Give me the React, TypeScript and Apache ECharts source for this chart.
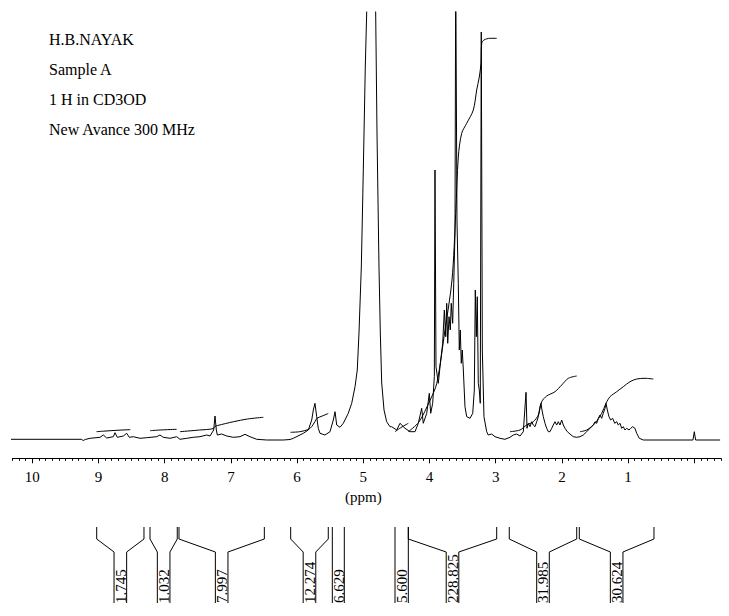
import React, { useEffect, useRef } from 'react';
import * as echarts from 'echarts';

const headerLines = ['H.B.NAYAK', 'Sample A', '1 H in CD3OD', 'New Avance 300 MHz'];
const axisName = '(ppm)';

// [ppm, intensity]
const spectrum: [number, number][] = [
  [10.34, 0.7], [9.26, 0.7], [9.23, -0.5], [9.2, 0.5], [9.128, 1.7], [8.977, 2.7], [8.927, 5], [8.876, 2],
  [8.776, 3.3], [8.751, 7.3], [8.716, 2.7], [8.625, 4], [8.574, 6.7], [8.535, 2.7], [8.474, 3.3], [8.373, 1.7],
  [8.272, 2.3], [8.121, 3.3], [8.071, 5], [8.021, 2.7], [7.92, 1.7], [7.819, 3.3], [7.769, 0.7], [7.668, 1.7],
  [7.568, 2.7], [7.467, 3.3], [7.366, 5], [7.316, 4], [7.26, 10], [7.24, 24], [7.22, 10], [7.205, 5],
  [7.139, 6], [7.063, 4], [6.964, 2.7], [6.863, 3.3], [6.787, 5.7], [6.712, 3.3], [6.61, 0.7], [6.459, 0],
  [6.208, 0], [6.107, 0.5], [6.057, 1.7], [5.906, 6.7], [5.831, 10], [5.779, 20], [5.755, 30], [5.73, 36.7],
  [5.704, 23.3], [5.68, 11.7], [5.654, 6.7], [5.579, 5], [5.503, 8.3], [5.453, 20], [5.427, 28.3], [5.402, 15],
  [5.352, 12.7], [5.302, 16.7], [5.227, 26.7], [5.175, 36.7], [5.125, 53.3], [5.091, 70], [5.065, 107], [5.03, 173],
  [5.009, 240], [4.989, 307], [4.97, 373], [4.949, 427], [4.884, 800], [4.813, 427], [4.793, 307], [4.763, 173],
  [4.743, 107], [4.722, 57], [4.687, 30], [4.647, 18.3], [4.597, 13.3], [4.571, 13.3], [4.495, 10], [4.446, 16.7],
  [4.37, 11.7], [4.295, 8.3], [4.219, 8.3], [4.169, 16.7], [4.118, 31.7], [4.094, 16.7], [4.042, 26.7], [4.003, 46.7],
  [3.982, 26.7], [3.952, 36.7], [3.927, 63.3], [3.917, 270], [3.902, 73.3], [3.867, 56.7], [3.841, 73.3], [3.801, 96.7],
  [3.776, 130], [3.755, 103.3], [3.74, 136.7], [3.725, 96.7], [3.705, 123.3], [3.686, 110], [3.671, 136.7], [3.65, 116.7],
  [3.634, 156.7], [3.615, 206.7], [3.604, 470], [3.585, 220], [3.565, 156.7], [3.55, 90], [3.535, 110], [3.52, 76.7],
  [3.505, 90], [3.489, 70], [3.464, 33.3], [3.438, 23.3], [3.388, 21.7], [3.347, 26.7], [3.323, 50], [3.308, 150],
  [3.293, 103.3], [3.278, 143.3], [3.263, 56.7], [3.248, 50], [3.233, 36.7], [3.218, 408], [3.202, 90], [3.177, 23.3],
  [3.136, 8.3], [3.112, 5], [3.06, 6], [3.011, 3.3], [2.935, 1.7], [2.86, 0.7], [2.784, 2.7], [2.734, 5],
  [2.683, 6], [2.633, 4], [2.583, 8.3], [2.542, 47.7], [2.527, 11.7], [2.508, 16.7], [2.482, 13.3], [2.456, 18.3],
  [2.432, 15], [2.406, 13.3], [2.381, 18.3], [2.356, 23.3], [2.331, 33.3], [2.316, 36.7], [2.301, 30], [2.281, 23.3],
  [2.255, 16.7], [2.23, 11.7], [2.205, 8.3], [2.18, 8.3], [2.154, 11.7], [2.13, 15], [2.104, 18.3], [2.079, 15],
  [2.054, 18.3], [2.029, 15], [2.003, 20], [1.979, 15], [1.953, 11.7], [1.918, 8.3], [1.878, 6], [1.828, 3.3],
  [1.776, 2.7], [1.727, 3.3], [1.677, 5], [1.625, 8.3], [1.576, 11.7], [1.526, 15], [1.5, 18.3], [1.474, 16.7],
  [1.45, 21.7], [1.424, 25], [1.399, 21.7], [1.375, 26.7], [1.349, 31.7], [1.334, 36.7], [1.314, 30], [1.289, 23.3],
  [1.263, 20], [1.233, 21.7], [1.202, 16.7], [1.172, 18.3], [1.148, 15], [1.122, 16.7], [1.097, 11.7], [1.073, 13.3],
  [1.047, 10], [1.021, 11.7], [0.986, 10], [0.961, 11.7], [0.931, 13.3], [0.896, 11.7], [0.87, 6.7], [0.831, 1.7],
  [0.77, 0], [0.02, 0], [0.0, 8.3], [-0.02, 0], [-0.39, 0],
];

// integral curves [ppm, height]
const integral1: [number, number][] = [[9.03, 8.3], [8.93, 8.8], [8.75, 9.6], [8.57, 10.2], [8.52, 10.3]];
const integral2: [number, number][] = [[8.22, 9.3], [8.07, 10], [7.82, 10.7]];
const integral3: [number, number][] = [[7.77, 8.3], [7.47, 10], [7.27, 11.3], [7.24, 13.5], [7.2, 14.5], [6.96, 18.3], [6.75, 21], [6.51, 22.7]];
const integral4: [number, number][] = [[6.1, 7.7], [5.96, 8.3], [5.83, 10.5], [5.78, 13.3], [5.73, 18.5], [5.7, 21.7], [5.62, 24], [5.53, 26.5]];
const integral6: [number, number][] = [[4.52, 8.3], [4.45, 11.7], [4.32, 16.7]];
const integral7: [number, number][] = [[4.32, 8.3], [4.16, 18], [3.99, 40], [3.89, 56.7], [3.766, 110], [3.66, 160], [3.604, 226.7], [3.565, 283], [3.514, 306.7], [3.438, 316.7], [3.338, 330], [3.287, 350], [3.248, 363], [3.222, 376.7], [3.211, 396.7], [3.177, 400], [3.086, 401.7], [2.985, 401.7]];
const integral8: [number, number][] = [[2.784, 8.3], [2.633, 10], [2.532, 15], [2.432, 18.3], [2.356, 25], [2.305, 38.3], [2.23, 44], [2.104, 48.3], [2.003, 55], [1.903, 61.7], [1.776, 64]];
const integral9: [number, number][] = [[1.727, 8.3], [1.625, 10], [1.5, 16.7], [1.399, 26.7], [1.334, 36.7], [1.273, 43.3], [1.172, 48.3], [1.073, 53.3], [0.971, 58.3], [0.87, 61], [0.745, 61.7], [0.619, 61]];
const integralCurves = [integral1, integral2, integral3, integral4, integral6, integral7, integral8, integral9];

// integration regions (ppm) and their values
const regionStart = [9.027, 8.222, 7.784, 6.097, 5.468, 4.521, 4.32, 2.795, 1.737];
const regionEnd = [8.313, 7.81, 6.495, 5.529, 5.287, 4.32, 2.985, 1.776, 0.609];
const regionValues = ['1.745', '1.032', '7.997', '12.274', '6.629', '5.600', '228.825', '31.985', '30.624'];

const FONT = "'Liberation Serif', 'DejaVu Serif', serif";
const PPM_MIN = -0.4;
const PPM_MAX = 10.3;
const PX_PER_PPM = 66.2;
const X_OF_TEN = 32.3;
const X_OF_ZERO = 694.3;
const AXIS_Y = 458.3;
const TOP = 12;

export default function App() {
  const ref = useRef<HTMLDivElement>(null);
  useEffect(() => {
    const chart = echarts.init(ref.current!, null, { renderer: 'svg' });
    const gridLeft = X_OF_TEN - (PPM_MAX - 10) * PX_PER_PPM;
    const gridRight = 729 - (X_OF_ZERO - PPM_MIN * PX_PER_PPM);
    const spectrumHeight = AXIS_Y - TOP;

    const lineStyle = { color: '#000', width: 1 };
    const series: any[] = [
      {
        type: 'line',
        xAxisIndex: 0,
        yAxisIndex: 0,
        data: spectrum,
        showSymbol: false,
        symbol: 'none',
        lineStyle,
        clip: true,
        silent: true,
      },
      ...integralCurves.map((c) => ({
        type: 'line',
        xAxisIndex: 0,
        yAxisIndex: 0,
        data: c,
        showSymbol: false,
        symbol: 'none',
        smooth: 0.3,
        lineStyle,
        clip: true,
        silent: true,
      })),
      {
        type: 'custom',
        xAxisIndex: 2,
        yAxisIndex: 2,
        silent: true,
        data: regionStart.map((s, i) => [s, regionEnd[i]]),
        renderItem: (params: any, api: any) => {
          const i = params.dataIndex;
          const xl = api.coord([api.value(0), 0])[0];
          const xr = api.coord([api.value(1), 0])[0];
          const yTop = api.coord([0, 76])[1];
          const yKnee = api.coord([0, 64])[1];
          const yStem = api.coord([0, 51])[1];
          const yBot = api.coord([0, 0])[1];
          const cx = (xl + xr) / 2;
          const hw = 6.3;
          const st = { stroke: '#000', lineWidth: 1, fill: null };
          const children: any[] = [];
          if (xr - xl < 2 * hw + 3) {
            children.push({ type: 'line', shape: { x1: xl, y1: yTop, x2: xl, y2: yBot }, style: st });
            children.push({ type: 'line', shape: { x1: xr, y1: yTop, x2: xr, y2: yBot }, style: st });
          } else {
            children.push({
              type: 'polyline',
              shape: { points: [[xl, yTop], [xl, yKnee], [cx - hw, yStem], [cx - hw, yBot]] },
              style: st,
            });
            children.push({
              type: 'polyline',
              shape: { points: [[xr, yTop], [xr, yKnee], [cx + hw, yStem], [cx + hw, yBot]] },
              style: st,
            });
          }
          children.push({
            type: 'text',
            x: cx + 0.5,
            y: yBot,
            rotation: Math.PI / 2,
            style: {
              text: regionValues[i],
              fill: '#000',
              font: `15px ${FONT}`,
              align: 'left',
              verticalAlign: 'middle',
            },
          });
          return { type: 'group', children };
        },
      },
    ];

    chart.setOption({
      animation: false,
      backgroundColor: '#fff',
      grid: [
        { left: gridLeft, right: gridRight, top: TOP, height: spectrumHeight },
        { left: X_OF_TEN, right: 729 - X_OF_ZERO, top: TOP, height: spectrumHeight },
        { left: gridLeft, right: gridRight, top: 526, height: 77 },
      ],
      xAxis: [
        {
          gridIndex: 0,
          type: 'value',
          min: PPM_MIN,
          max: PPM_MAX,
          interval: 0.1,
          inverse: true,
          axisLine: { show: true, onZero: false, lineStyle: { color: '#000', width: 1 } },
          axisTick: { show: true, length: 2.5, lineStyle: { color: '#000', width: 1 } },
          axisLabel: { show: false },
          splitLine: { show: false },
        },
        {
          gridIndex: 1,
          type: 'value',
          min: 0,
          max: 10,
          interval: 1,
          inverse: true,
          axisLine: { show: false },
          axisTick: { show: true, length: 5, lineStyle: { color: '#000', width: 1 } },
          axisLabel: {
            show: true,
            margin: 11,
            color: '#000',
            fontSize: 15,
            fontFamily: FONT,
            formatter: (v: number) => (v === 0 ? '' : String(v)),
          },
          splitLine: { show: false },
          name: axisName,
          nameLocation: 'middle',
          nameGap: 21,
          nameTextStyle: { color: '#000', fontSize: 15, fontFamily: FONT },
        },
        {
          gridIndex: 2,
          type: 'value',
          min: PPM_MIN,
          max: PPM_MAX,
          inverse: true,
          show: false,
        },
      ],
      yAxis: [
        { gridIndex: 0, type: 'value', min: -(AXIS_Y - 440), max: 440 - TOP, show: false, splitLine: { show: false } },
        { gridIndex: 1, type: 'value', min: 0, max: 1, show: false, splitLine: { show: false } },
        { gridIndex: 2, type: 'value', min: 0, max: 77, show: false, splitLine: { show: false } },
      ],
      graphic: headerLines.map((t, i) => ({
        type: 'text',
        left: 49,
        top: 31 + i * 30.3,
        style: { text: t, fill: '#000', font: `16px ${FONT}` },
      })),
      series,
    });
    return () => chart.dispose();
  }, []);
  return <div ref={ref} style={{ position: 'fixed', left: 0, top: 0, width: 729, height: 616 }} />;
}
